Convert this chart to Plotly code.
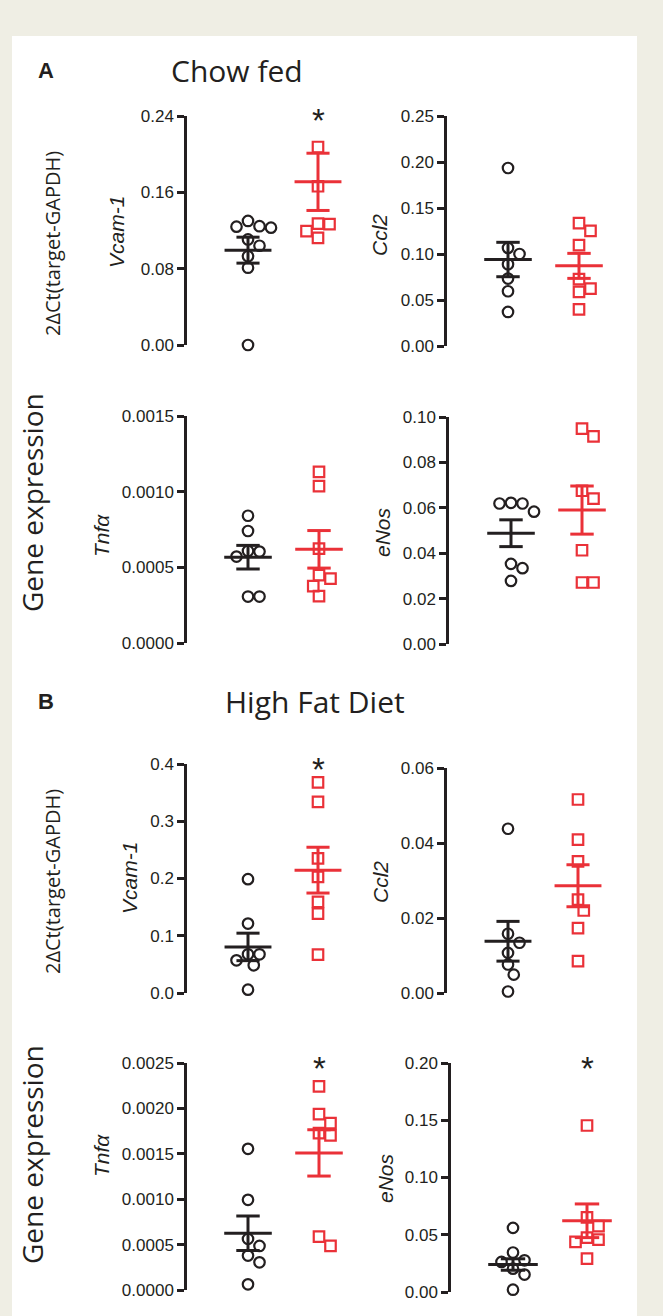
import plotly.graph_objects as go

W, H = 663, 1316

# ---------------- data ----------------
# Chow fed
chow_vcam1_black = [0.130, 0.124, 0.123, 0.1245, 0.104, 0.1106, 0.093, 0.081, 0.0]
chow_vcam1_red = [0.2075, 0.1664, 0.1266, 0.1273, 0.1123, 0.1193]
chow_ccl2_black = [0.1935, 0.100, 0.1066, 0.0889, 0.0733, 0.0595, 0.037]
chow_ccl2_red = [0.1335, 0.1252, 0.1096, 0.0726, 0.0624, 0.0588, 0.0399]
chow_tnfa_black = [0.000841, 0.00074, 0.000604, 0.000608, 0.000571, 0.000307, 0.000307]
chow_tnfa_red = [0.001131, 0.001037, 0.000623, 0.000448, 0.000426, 0.000376, 0.000310]
chow_enos_black = [0.0619, 0.0583, 0.0619, 0.0622, 0.0353, 0.0334, 0.0278]
chow_enos_red = [0.0949, 0.0915, 0.0675, 0.064, 0.0413, 0.0271, 0.0271]
# High fat diet
hfd_vcam1_black = [0.1988, 0.1213, 0.0676, 0.0676, 0.0571, 0.0484, 0.0058]
hfd_vcam1_red = [0.368, 0.334, 0.235, 0.2029, 0.1592, 0.1388, 0.0671]
hfd_ccl2_black = [0.0438, 0.0158, 0.0134, 0.0107, 0.0076, 0.0049, 0.0004]
hfd_ccl2_red = [0.0516, 0.0409, 0.0351, 0.0249, 0.022, 0.0173, 0.0085]
hfd_tnfa_black = [0.001555, 0.000993, 0.000563, 0.000485, 0.000379, 0.000305, 0.0000625]
hfd_tnfa_red = [0.002243, 0.001938, 0.001838, 0.001728, 0.001702, 0.000588, 0.000485]
hfd_enos_black = [0.056, 0.0345, 0.0277, 0.0263, 0.0204, 0.0152, 0.002]
hfd_enos_red = [0.1454, 0.0651, 0.0575, 0.0475, 0.0458, 0.0438, 0.0292]

# means and SEM as drawn  [black, red]
chow_vcam1_mean = [0.0994, 0.171]; chow_vcam1_sem = [0.0136, 0.030]
chow_ccl2_mean = [0.094, 0.0871]; chow_ccl2_sem = [0.0187, 0.0136]
chow_tnfa_mean = [0.000567, 0.000619]; chow_tnfa_sem = [0.000078, 0.000124]
chow_enos_mean = [0.0488, 0.059]; chow_enos_sem = [0.0059, 0.0106]
hfd_vcam1_mean = [0.0805, 0.2146]; hfd_vcam1_sem = [0.024, 0.040]
hfd_ccl2_mean = [0.0138, 0.0286]; hfd_ccl2_sem = [0.0053, 0.0056]
hfd_tnfa_mean = [0.000625, 0.00151]; hfd_tnfa_sem = [0.00019, 0.000255]
hfd_enos_mean = [0.024, 0.0622]; hfd_enos_sem = [0.005, 0.0147]

# tick labels
ticks_chow_vcam1 = ["0.00", "0.08", "0.16", "0.24"]
ticks_chow_ccl2 = ["0.00", "0.05", "0.10", "0.15", "0.20", "0.25"]
ticks_chow_tnfa = ["0.0000", "0.0005", "0.0010", "0.0015"]
ticks_chow_enos = ["0.00", "0.02", "0.04", "0.06", "0.08", "0.10"]
ticks_hfd_vcam1 = ["0.0", "0.1", "0.2", "0.3", "0.4"]
ticks_hfd_ccl2 = ["0.00", "0.02", "0.04", "0.06"]
ticks_hfd_tnfa = ["0.0000", "0.0005", "0.0010", "0.0015", "0.0020", "0.0025"]
ticks_hfd_enos = ["0.00", "0.05", "0.10", "0.15", "0.20"]

gene_labels = ["Vcam-1", "Ccl2", "Tnf\u03b1", "eNos"]

# ---------------- layout (pixel geometry) ----------------
BLACK = "#231F20"
RED = "#EA3138"
TICKFONT = dict(family="Liberation Sans, Arial, sans-serif", size=17, color=BLACK)

# (black, red, mean, sem, ticks, label, axis_x, black_x, red_x, top_y, bottom_y, label_x, label_y, star)
panels = [
    (chow_vcam1_black, chow_vcam1_red, chow_vcam1_mean, chow_vcam1_sem, ticks_chow_vcam1, gene_labels[0], 187, 248, 318, 116, 345, 117, 232, True),
    (chow_ccl2_black, chow_ccl2_red, chow_ccl2_mean, chow_ccl2_sem, ticks_chow_ccl2, gene_labels[1], 447, 508, 579, 116, 346, 379, 235, False),
    (chow_tnfa_black, chow_tnfa_red, chow_tnfa_mean, chow_tnfa_sem, ticks_chow_tnfa, gene_labels[2], 187, 248, 319, 416, 643, 101, 535, False),
    (chow_enos_black, chow_enos_red, chow_enos_mean, chow_enos_sem, ticks_chow_enos, gene_labels[3], 449, 511, 582, 417, 644, 382, 532, False),
    (hfd_vcam1_black, hfd_vcam1_red, hfd_vcam1_mean, hfd_vcam1_sem, ticks_hfd_vcam1, gene_labels[0], 187, 248, 318, 764, 993, 129, 878, True),
    (hfd_ccl2_black, hfd_ccl2_red, hfd_ccl2_mean, hfd_ccl2_sem, ticks_hfd_ccl2, gene_labels[1], 447, 508, 578, 768, 993, 380, 882, False),
    (hfd_tnfa_black, hfd_tnfa_red, hfd_tnfa_mean, hfd_tnfa_sem, ticks_hfd_tnfa, gene_labels[2], 187, 248, 319, 1063, 1290, 101, 1155, True),
    (hfd_enos_black, hfd_enos_red, hfd_enos_mean, hfd_enos_sem, ticks_hfd_enos, gene_labels[3], 451, 513, 587, 1063, 1292, 385, 1178, True),
]


def px(x):
    return x / W


def py(y):
    return 1 - y / H


def swarm(vals, ppu_y, ppu_x, d=11.5):
    """simple beeswarm: returns x offsets (data units) for each value"""
    n = len(vals)
    order = sorted(range(n), key=lambda i: -vals[i])
    placed = []
    offs = [0.0] * n
    cands = [0.0]
    for k in range(1, 12):
        cands += [k * d / 2, -k * d / 2]
    for i in order:
        y = vals[i] * ppu_y
        for c in cands:
            if all((c - ox) ** 2 + (y - oy) ** 2 >= (d * 0.98) ** 2 for ox, oy in placed):
                placed.append((c, y))
                offs[i] = c / ppu_x
                break
    return offs


fig = go.Figure()
annotations = []
layout_axes = {}

for k, (bl, rd, mean, sem, ticks, label, ax_x, bx, rx, ty, by, lx, ly, star) in enumerate(panels):
    n = k + 1
    xa = "x" if n == 1 else f"x{n}"
    ya = "y" if n == 1 else f"y{n}"
    ymax = float(ticks[-1])
    ppu_y = (by - ty) / ymax
    ppu_x = rx - bx
    width_px = 165
    x0 = 1 - (bx - ax_x) / ppu_x
    x1 = x0 + width_px / ppu_x

    for g, (vals, sym, col) in enumerate([(bl, "circle-open", BLACK), (rd, "square-open", RED)]):
        xc = g + 1
        offs = swarm(vals, ppu_y, ppu_x)
        fig.add_trace(go.Scatter(
            x=[xc + o for o in offs], y=vals, mode="markers", xaxis=xa, yaxis=ya,
            marker=dict(symbol=sym, size=10.5, color=col, line=dict(width=2.2, color=col)),
            cliponaxis=False, showlegend=False, hoverinfo="y"))
        m, s = mean[g], sem[g]
        hw, cw = 0.335, 0.165
        lx_ = [xc - hw, xc + hw, None, xc, xc, None, xc - cw, xc + cw, None, xc - cw, xc + cw]
        ly_ = [m, m, None, m - s, m + s, None, m + s, m + s, None, m - s, m - s]
        fig.add_trace(go.Scatter(
            x=lx_, y=ly_, mode="lines", xaxis=xa, yaxis=ya,
            line=dict(color=col, width=3), cliponaxis=False, showlegend=False, hoverinfo="skip"))

    tickvals = [float(t) for t in ticks]
    layout_axes["xaxis" if n == 1 else f"xaxis{n}"] = dict(
        domain=[px(ax_x), px(ax_x + width_px)], range=[x0, x1], visible=False,
        automargin=False, anchor=ya)
    layout_axes["yaxis" if n == 1 else f"yaxis{n}"] = dict(
        domain=[py(by), py(ty)], range=[0, ymax], anchor=xa, automargin=False,
        showgrid=False, zeroline=False, showline=True, linecolor=BLACK, linewidth=2.5,
        ticks="outside", ticklen=7, tickwidth=2.5, tickcolor=BLACK,
        tickvals=tickvals, ticktext=ticks, tickfont=TICKFONT)

    annotations.append(dict(
        x=px(lx), y=py(ly), xref="paper", yref="paper", text=f"<i>{label}</i>",
        textangle=-90, showarrow=False, xanchor="center", yanchor="middle",
        font=dict(family="Liberation Sans, Arial, sans-serif", size=21, color=BLACK)))
    if star:
        annotations.append(dict(
            x=2, y=ymax, xref=xa, yref=ya, text="*", showarrow=False,
            xanchor="center", yanchor="middle", yshift=-5,
            font=dict(family="Liberation Sans, Arial, sans-serif", size=33, color=BLACK)))

# section headings and shared axis labels
TITLEFONT = dict(family="Open Sans, sans-serif", size=30, color=BLACK)
for letter, ly, title, tx in [("A", 70, "Chow fed", 237), ("B", 701, "High Fat Diet", 315)]:
    annotations.append(dict(x=px(46), y=py(ly), xref="paper", yref="paper", text=f"<b>{letter}</b>",
                            showarrow=False, xanchor="center", yanchor="middle",
                            font=dict(family="Liberation Sans, Arial, sans-serif", size=22, color=BLACK)))
    annotations.append(dict(x=px(tx), y=py(ly), xref="paper", yref="paper", text=title,
                            showarrow=False, xanchor="center", yanchor="middle", font=TITLEFONT))

for gy, uy in [(503, 244), (1155, 882)]:
    annotations.append(dict(x=px(32), y=py(gy), xref="paper", yref="paper", text="Gene expression",
                            textangle=-90, showarrow=False, xanchor="center", yanchor="middle",
                            font=dict(family="Open Sans, sans-serif", size=28, color=BLACK)))
    annotations.append(dict(x=px(52), y=py(uy), xref="paper", yref="paper", text="2\u0394Ct(target-GAPDH)",
                            textangle=-90, showarrow=False, xanchor="center", yanchor="middle",
                            font=dict(family="Open Sans, sans-serif", size=20, color=BLACK)))

fig.update_layout(
    template="none",
    width=W, height=H,
    margin=dict(l=0, r=0, t=0, b=0, pad=0, autoexpand=False),
    paper_bgcolor="#EFEEE4", plot_bgcolor="rgba(0,0,0,0)",
    showlegend=False,
    annotations=annotations,
    shapes=[dict(type="rect", xref="paper", yref="paper", x0=px(12), x1=px(637), y0=0, y1=py(36),
                 fillcolor="white", line=dict(width=0), layer="below")],
    **layout_axes)

post = (
    "var s=document.createElement('style');"
    "s.innerHTML='html,body{margin:0;padding:0;overflow:hidden;}';"
    "document.head.appendChild(s);"
)

fig.write_html("out.html", config={"displayModeBar": False}, post_script=post)
